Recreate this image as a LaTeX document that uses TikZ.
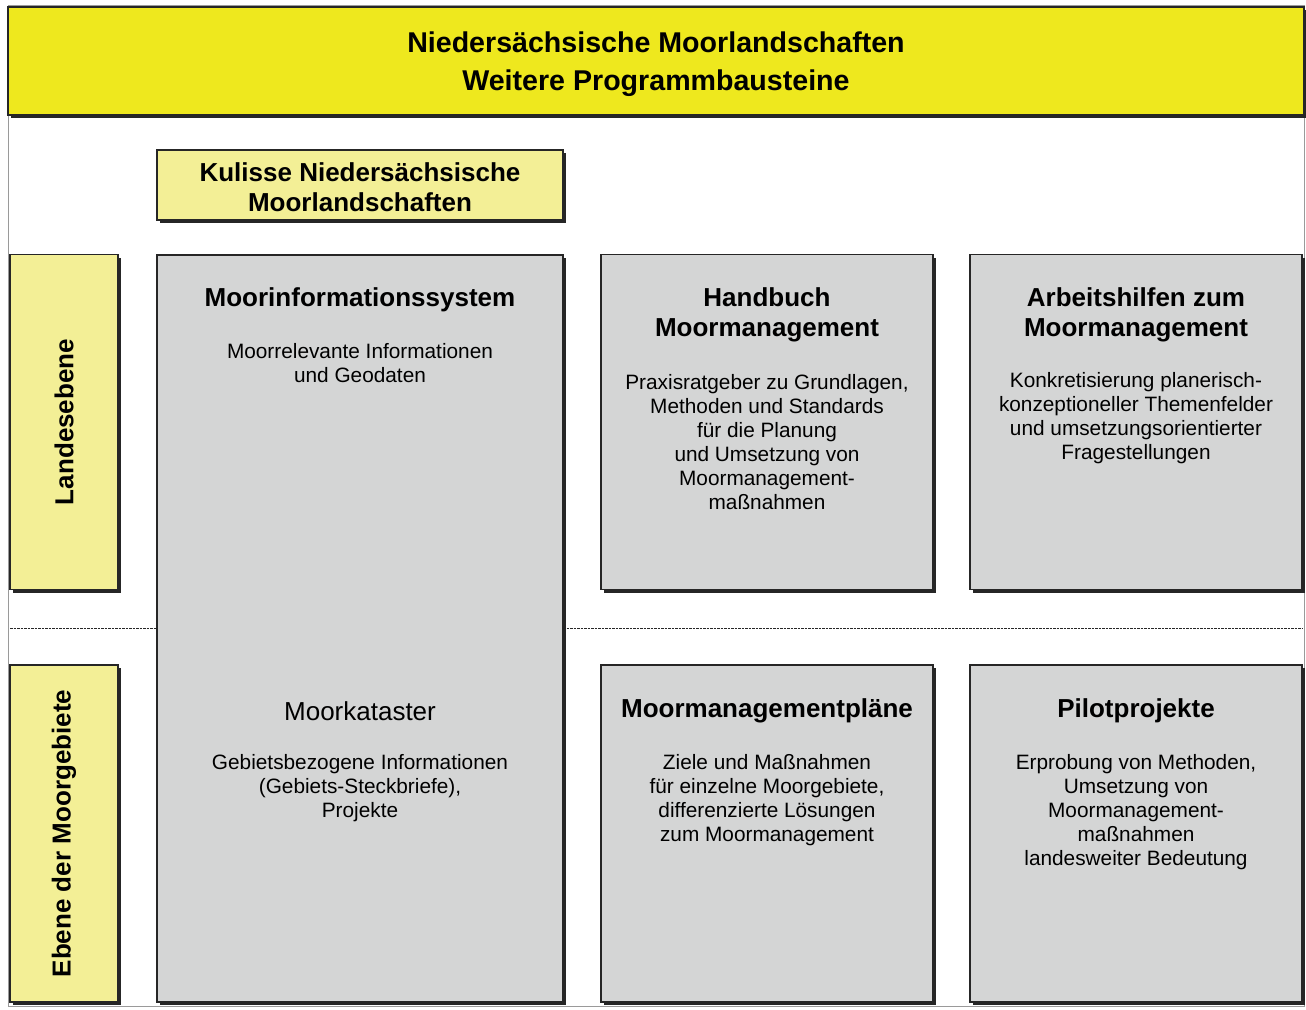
\documentclass[tikz,border=0pt]{standalone}
\usepackage{fontspec}
\setmainfont{Liberation Sans}
\usetikzlibrary{shadows}
\definecolor{bannerY}{HTML}{EEE81E}
\definecolor{lightY}{HTML}{F3EF96}
\definecolor{boxG}{HTML}{D4D5D5}
\definecolor{frameG}{HTML}{9A9A9A}
\tikzset{
  panel/.style={draw=black!85, line width=1.2pt, fill=boxG, rectangle, inner sep=0pt,
    drop shadow={shadow xshift=3pt, shadow yshift=-3pt, fill=black!85, opacity=1}},
  ypanel/.style={panel, fill=lightY},
  ttl/.style={font=\fontsize{26}{30}\selectfont\bfseries, align=center, inner sep=0pt},
  body/.style={font=\fontsize{20.8}{24}\selectfont, align=center, inner sep=0pt},
  side/.style={font=\fontsize{26}{28}\selectfont\bfseries, rotate=90, inner sep=0pt}
}
\begin{document}
\begin{tikzpicture}[x=1pt,y=-1pt]
\useasboundingbox[fill=white] (0,0) rectangle (1306,1009);
\draw[frameG, line width=1pt] (8,5) rectangle (1304,1006);
% banner
\node[panel, fill=bannerY, minimum width=1296pt, minimum height=108pt] (banner) at (656,61) {};
\node[font=\fontsize{28.6}{38}\selectfont\bfseries, align=center, inner sep=0pt] (bannertext) at (656,64) {Niedersächsische Moorlandschaften\\Weitere Programmbausteine};
% dashed separator
\coordinate (dl1) at (10,628);
\coordinate (dl2) at (157,628);
\coordinate (dl3) at (563,628);
\coordinate (dl4) at (1302,628);
\draw[black!85, dash pattern=on 2.5pt off 1pt, line width=1pt] (dl1) -- (dl2);
\draw[black!85, dash pattern=on 2.5pt off 1pt, line width=1pt] (dl3) -- (dl4);
% side labels
\node[ypanel, minimum width=108pt, minimum height=335pt] (lande) at (64,422) {};
\node[side] at (lande.center) {Landesebene};
\node[ypanel, minimum width=108pt, minimum height=337pt] (ebene) at (64,833.5) {};
\node[side] at (ebene.center) {Ebene der Moorgebiete};
% Kulisse
\node[ypanel, minimum width=406pt, minimum height=70pt] (kulisse) at (360,185) {};
\node[ttl] at (360,187) {Kulisse Niedersächsische\\Moorlandschaften};
% Moorinformationssystem
\node[panel, minimum width=406pt, minimum height=747pt] (mis) at (360,628.5) {};
\node[ttl] (mist) at (360,300) {Moorinformationssystem};
\node[body] (misb) at (360,363) {Moorrelevante Informationen\\und Geodaten};
\node[font=\fontsize{26}{28}\selectfont, inner sep=0pt] (mk) at (360,711) {Moorkataster};
\node[body] (mkb) at (360,788) {Gebietsbezogene Informationen\\(Gebiets-Steckbriefe),\\Projekte};
% Handbuch
\node[panel, minimum width=332pt, minimum height=335pt] (hb) at (767,422) {};
\node[ttl] at (767,314.5) {Handbuch\\Moormanagement};
\node[body] at (767,442) {Praxisratgeber zu Grundlagen,\\Methoden und Standards\\für die Planung\\und Umsetzung von\\Moormanagement-\\maßnahmen};
% Arbeitshilfen
\node[panel, minimum width=332pt, minimum height=335pt] (ah) at (1136,422) {};
\node[ttl] at (1136,314.5) {Arbeitshilfen zum\\Moormanagement};
\node[body] at (1136,418) {Konkretisierung planerisch-\\konzeptioneller Themenfelder\\und umsetzungsorientierter\\Fragestellungen};
% Moormanagementplaene
\node[panel, minimum width=332pt, minimum height=337pt] (mp) at (767,833.5) {};
\node[ttl] at (767,711) {Moormanagementpläne};
\node[body] at (767,800) {Ziele und Maßnahmen\\für einzelne Moorgebiete,\\differenzierte Lösungen\\zum Moormanagement};
% Pilotprojekte
\node[panel, minimum width=332pt, minimum height=337pt] (pp) at (1136,833.5) {};
\node[ttl] at (1136,711) {Pilotprojekte};
\node[body] at (1136,812) {Erprobung von Methoden,\\Umsetzung von\\Moormanagement-\\maßnahmen\\landesweiter Bedeutung};
\end{tikzpicture}
\end{document}
